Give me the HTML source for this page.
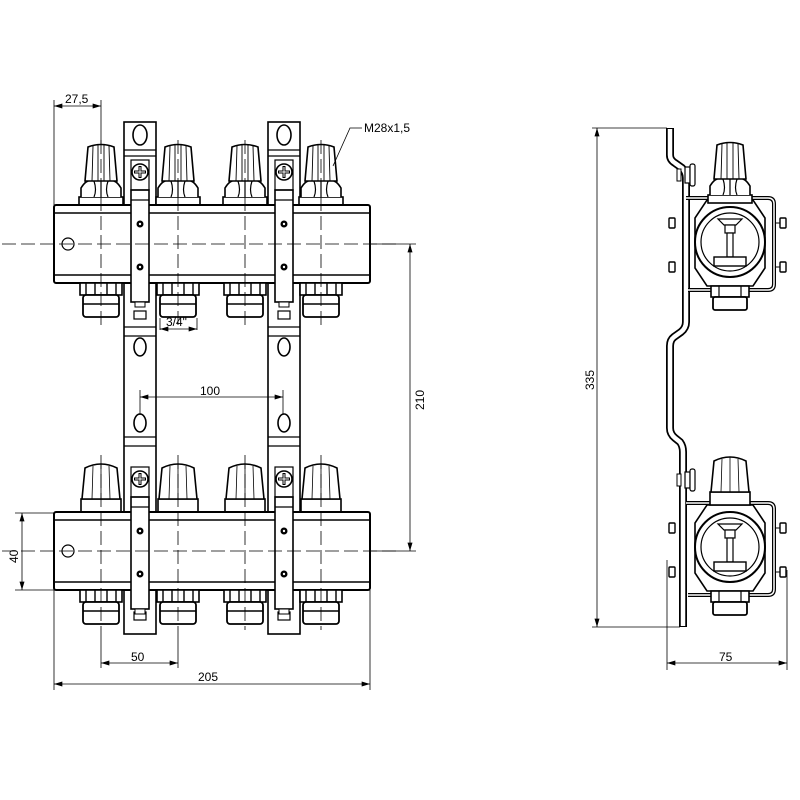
<!DOCTYPE html>
<html><head><meta charset="utf-8"><style>
html,body{margin:0;padding:0;background:#fff}
svg{display:block}
text{font-family:"Liberation Sans",sans-serif;font-size:12px;fill:#000}
</style></head><body>
<svg width="800" height="800" viewBox="0 0 800 800" xmlns="http://www.w3.org/2000/svg">
<defs>
<marker id="ar" viewBox="0 0 10 6" refX="10" refY="3" markerWidth="9" markerHeight="5" orient="auto-start-reverse" markerUnits="userSpaceOnUse"><path d="M0,0 L10,3 L0,6 z" fill="#000"/></marker>
<g id="tknob">
  <rect x="-22" y="197" width="44" height="8" fill="#fff" stroke="#000" stroke-width="1.6"/>
  <path d="M-20,197 L-20,188 Q-14,178 -7,181 Q0,176 7,181 Q14,178 20,188 L20,197" fill="#fff" stroke="#000" stroke-width="1.6"/>
  <path d="M-7,181 Q-4,190 -7,197 M7,181 Q4,190 7,197 M0,180 L0,197" fill="none" stroke="#000" stroke-width="1.2"/>
  <path d="M-16,181 L-13,147 Q0,142 13,147 L16,181 Z" fill="#fff" stroke="#000" stroke-width="1.6"/>
  <path d="M-8,146 L-9,181 M-3,145 L-3,181 M3,145 L3,181 M8,146 L9,181" stroke="#000" stroke-width="0.9"/>
</g>
<g id="bknob">
  <rect x="-20" y="499" width="40" height="13" fill="#fff" stroke="#000" stroke-width="1.6"/>
  <path d="M-19,499 L-16,468 Q0,460 16,468 L19,499 Z" fill="#fff" stroke="#000" stroke-width="1.6"/>
  <path d="M-8,466 L-9,499 M0,464 L0,499 M8,466 L9,499" stroke="#000" stroke-width="0.8"/>
</g>
<g id="fit">
  <rect x="-21" y="283" width="42" height="12" fill="#fff" stroke="#000" stroke-width="1.6"/>
  <path d="M-15,283 V295 M-6,283 V295 M6,283 V295 M15,283 V295" stroke="#000" stroke-width="1.4"/>
  <rect x="-18" y="295" width="36" height="22" rx="3" fill="#fff" stroke="#000" stroke-width="1.8"/>
  <line x1="-18" y1="304" x2="18" y2="304" stroke="#000" stroke-width="1.4"/>
</g>
<g id="bar">
  <rect x="54" y="205" width="316" height="78" rx="2" fill="#fff" stroke="#000" stroke-width="2"/>
  <line x1="54" y1="213" x2="370" y2="213" stroke="#000" stroke-width="1.6"/>
  <line x1="54" y1="275" x2="370" y2="275" stroke="#000" stroke-width="1.6"/>
  <circle cx="68" cy="244" r="6" fill="#fff" stroke="#000" stroke-width="1.2"/>
  <use href="#fit" x="101"/><use href="#fit" x="178"/><use href="#fit" x="245"/><use href="#fit" x="321"/>
</g>
<g id="clamp">
  <rect x="131" y="190" width="18" height="112" fill="#fff" stroke="#000" stroke-width="1.6"/>
  <line x1="131" y1="200" x2="149" y2="200" stroke="#000" stroke-width="1.2"/>
  <circle cx="140" cy="224" r="3.5" fill="#000"/><circle cx="140" cy="224" r="1.2" fill="#fff"/>
  <circle cx="140" cy="267" r="3.5" fill="#000"/><circle cx="140" cy="267" r="1.2" fill="#fff"/>
  <rect x="135" y="302" width="10" height="5" fill="#fff" stroke="#000" stroke-width="1"/>
  <circle cx="140" cy="172" r="8" fill="#fff" stroke="#000" stroke-width="1.6"/>
  <path d="M134,172 H146 M140,166 V178" stroke="#000" stroke-width="3"/>
  <path d="M135,172 H145 M140,167 V177" stroke="#fff" stroke-width="1"/>
  <rect x="131" y="160" width="18" height="30" fill="none" stroke="#000" stroke-width="1.2"/>
</g>
<g id="valve">
  <path d="M686,198 H768 Q774,198 774,204 V284 Q774,290 768,290 H688" fill="none" stroke="#000" stroke-width="4"/>
  <path d="M686,198 H768 Q774,198 774,204 V284 Q774,290 768,290 H688" fill="none" stroke="#fff" stroke-width="1.5"/>
  <path d="M707,200 H753 L765,218 V268 L753,286 H707 L695,268 V218 Z" fill="#fff" stroke="#000" stroke-width="1.6"/>
  <circle cx="730" cy="242" r="35" fill="#fff" stroke="#000" stroke-width="2"/>
  <circle cx="730" cy="242" r="29" fill="#fff" stroke="#000" stroke-width="1.2"/>
  <path d="M718,219 H742 L736,225 H724 Z" fill="#fff" stroke="#000" stroke-width="1.2"/>
  <rect x="725" y="225" width="10" height="8" fill="#fff" stroke="#000" stroke-width="1.2"/>
  <rect x="727" y="233" width="6" height="24" fill="#fff" stroke="#000" stroke-width="1.2"/>
  <rect x="714" y="257" width="32" height="9" fill="#fff" stroke="#000" stroke-width="1.4"/>
  <rect x="711" y="286" width="38" height="11" fill="#fff" stroke="#000" stroke-width="1.6"/>
  <path d="M719,286 V297 M741,286 V297" stroke="#000" stroke-width="1.2"/>
  <rect x="713" y="297" width="34" height="13" rx="2" fill="#fff" stroke="#000" stroke-width="1.8"/>
  <rect x="669" y="218" width="6" height="10" rx="1" fill="#fff" stroke="#000" stroke-width="1.4"/>
  <rect x="669" y="262" width="6" height="10" rx="1" fill="#fff" stroke="#000" stroke-width="1.4"/>
  <rect x="780" y="218" width="6" height="10" rx="1" fill="#fff" stroke="#000" stroke-width="1.4"/>
  <rect x="780" y="262" width="6" height="10" rx="1" fill="#fff" stroke="#000" stroke-width="1.4"/>
  <line x1="775" y1="223" x2="780" y2="223" stroke="#000"/><line x1="775" y1="267" x2="780" y2="267" stroke="#000"/>
  <rect x="685" y="167" width="5" height="16" fill="#fff" stroke="#000" stroke-width="1.2"/>
  <rect x="690" y="164" width="5" height="22" rx="2" fill="#fff" stroke="#000" stroke-width="1.2"/>
  <rect x="677" y="169" width="4" height="12" fill="#fff" stroke="#000" stroke-width="1"/>
</g>
</defs>

<g fill="#fff" stroke="#000" stroke-width="1.6">
  <rect x="124" y="122" width="32" height="512"/>
  <rect x="268" y="122" width="32" height="512"/>
</g>
<g fill="none" stroke="#000" stroke-width="1.2">
  <path d="M124,150 H156 M124,156 H156 M268,150 H300 M268,156 H300"/>
  <path d="M124,327 H156 M124,336 H156 M124,437 H156 M124,446 H156 M268,327 H300 M268,336 H300 M268,437 H300 M268,446 H300"/>
  <ellipse cx="140" cy="135" rx="7" ry="10" stroke-width="1.6"/>
  <ellipse cx="284" cy="135" rx="7" ry="10" stroke-width="1.6"/>
  <ellipse cx="140" cy="347" rx="6" ry="9" stroke-width="1.6"/>
  <ellipse cx="284" cy="347" rx="6" ry="9" stroke-width="1.6"/>
  <ellipse cx="140" cy="423" rx="6" ry="9" stroke-width="1.6"/>
  <ellipse cx="284" cy="423" rx="6" ry="9" stroke-width="1.6"/>
  <rect x="134" y="311" width="12" height="8"/><rect x="278" y="311" width="12" height="8"/>
  <rect x="134" y="612" width="12" height="8"/><rect x="278" y="612" width="12" height="8"/>
</g>

<use href="#tknob" x="101"/><use href="#tknob" x="178"/><use href="#tknob" x="245"/><use href="#tknob" x="321"/>
<use href="#bar"/>
<use href="#clamp"/><use href="#clamp" x="144"/>

<use href="#bknob" x="101"/><use href="#bknob" x="178"/><use href="#bknob" x="245"/><use href="#bknob" x="321"/>
<use href="#bar" y="307"/>
<use href="#clamp" y="307"/><use href="#clamp" x="144" y="307"/>

<g stroke="#000" stroke-width="0.8" stroke-dasharray="14,5" fill="none">
  <line x1="2" y1="244" x2="400" y2="244"/>
  <line x1="2" y1="551" x2="400" y2="551"/>
  <line x1="101" y1="140" x2="101" y2="325"/><line x1="178" y1="140" x2="178" y2="325"/>
  <line x1="245" y1="140" x2="245" y2="325"/><line x1="321" y1="140" x2="321" y2="325"/>
  <line x1="101" y1="455" x2="101" y2="630"/><line x1="178" y1="455" x2="178" y2="630"/>
  <line x1="245" y1="455" x2="245" y2="630"/><line x1="321" y1="455" x2="321" y2="630"/>
</g>

<g stroke="#000" stroke-width="0.8" fill="none">
  <line x1="54" y1="100" x2="54" y2="205"/><line x1="101" y1="100" x2="101" y2="145"/>
  <line x1="54" y1="106" x2="101" y2="106" marker-start="url(#ar)" marker-end="url(#ar)"/>
  <line x1="54" y1="590" x2="54" y2="690"/><line x1="370" y1="590" x2="370" y2="690"/>
  <line x1="54" y1="684" x2="370" y2="684" marker-start="url(#ar)" marker-end="url(#ar)"/>
  <line x1="101" y1="630" x2="101" y2="668"/><line x1="178" y1="630" x2="178" y2="668"/>
  <line x1="101" y1="663" x2="178" y2="663" marker-start="url(#ar)" marker-end="url(#ar)"/>
  <line x1="140" y1="390" x2="140" y2="415"/><line x1="283" y1="390" x2="283" y2="415"/>
  <line x1="140" y1="397" x2="283" y2="397" marker-start="url(#ar)" marker-end="url(#ar)"/>
  <line x1="160" y1="318" x2="160" y2="330"/><line x1="197" y1="318" x2="197" y2="330"/>
  <line x1="160" y1="329" x2="197" y2="329" marker-start="url(#ar)" marker-end="url(#ar)"/>
  <line x1="370" y1="244" x2="416" y2="244"/><line x1="370" y1="551" x2="416" y2="551"/>
  <line x1="410" y1="244" x2="410" y2="551" marker-start="url(#ar)" marker-end="url(#ar)"/>
  <line x1="15" y1="513" x2="54" y2="513"/><line x1="15" y1="590" x2="54" y2="590"/>
  <line x1="22" y1="513" x2="22" y2="590" marker-start="url(#ar)" marker-end="url(#ar)"/>
  <path d="M333,166 L350,128 H362"/>
</g>
<text x="65" y="103">27,5</text>
<text x="364" y="132">M28x1,5</text>
<text x="166" y="326">3/4"</text>
<text x="200" y="395">100</text>
<text x="131" y="661">50</text>
<text x="198" y="681">205</text>
<text transform="translate(424,410) rotate(-90)">210</text>
<text transform="translate(18,563) rotate(-90)">40</text>

<path d="M670,128 V155 Q670,160 675,163 L682,168 Q686,172 686,178 V322 Q686,328 681,332 L674,337 Q670,340 670,346 V428 Q670,434 675,438 L680,442 Q683,446 683,452 V627" fill="none" stroke="#000" stroke-width="8"/>
<path d="M670,129 V155 Q670,160 675,163 L682,168 Q686,172 686,178 V322 Q686,328 681,332 L674,337 Q670,340 670,346 V428 Q670,434 675,438 L680,442 Q683,446 683,452 V626" fill="none" stroke="#fff" stroke-width="4.5"/>
<use href="#valve"/>
<use href="#tknob" x="730" y="-2"/>
<use href="#valve" y="305"/>
<use href="#bknob" x="730" y="-7"/>

<g stroke="#000" stroke-width="0.8" fill="none">
  <line x1="592" y1="128" x2="667" y2="128"/><line x1="592" y1="627" x2="680" y2="627"/>
  <line x1="597" y1="128" x2="597" y2="627" marker-start="url(#ar)" marker-end="url(#ar)"/>
  <line x1="667" y1="560" x2="667" y2="670"/><line x1="787" y1="570" x2="787" y2="670"/>
  <line x1="667" y1="663" x2="787" y2="663" marker-start="url(#ar)" marker-end="url(#ar)"/>
</g>
<text x="719" y="661">75</text>
<text transform="translate(594,390) rotate(-90)">335</text>
</svg>
</body></html>
